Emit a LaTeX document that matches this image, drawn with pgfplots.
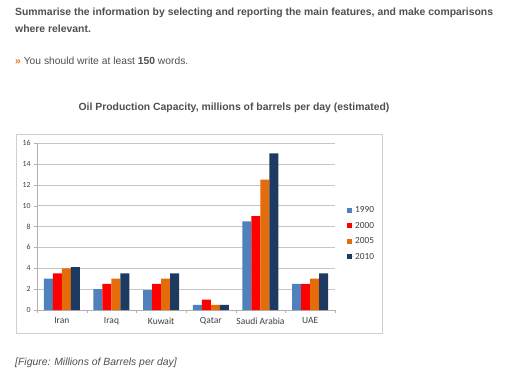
\documentclass[border=0pt]{standalone}
\usepackage{pgfplots}
\pgfplotsset{compat=1.18}
\usepackage{fontspec}
\setmainfont{Liberation Sans}
\newfontfamily\calibri{Carlito}
\definecolor{cA}{HTML}{4F81BD}
\definecolor{cB}{HTML}{FF0000}
\definecolor{cC}{HTML}{E46C0A}
\definecolor{cD}{HTML}{1F3A60}
\definecolor{hdr}{HTML}{505050}
\definecolor{orng}{HTML}{E87722}
\definecolor{frame}{HTML}{D0D0D0}
\definecolor{tick}{HTML}{404040}
\begin{document}
\begin{tikzpicture}[x=1pt,y=1pt]
\useasboundingbox[fill=white] (0,0) rectangle (512,378);
\node[anchor=west, text=hdr, font=\bfseries\fontsize{10.4}{12}\selectfont, inner sep=0pt] at (15,365) {Summarise the information by selecting and reporting the main features, and make comparisons};
\node[anchor=west, text=hdr, font=\bfseries\fontsize{10.4}{12}\selectfont, inner sep=0pt] at (15,349) {where relevant.};
\node[anchor=west, text=hdr, font=\fontsize{10.3}{12}\selectfont, inner sep=0pt] at (15,317) {{\color{orng}\bfseries »} You should write at least \textbf{150} words.};
\node[text=hdr, font=\bfseries\fontsize{10.4}{12}\selectfont, inner sep=0pt] at (234,270) {Oil Production Capacity, millions of barrels per day (estimated)};
\node[anchor=west, text=hdr, font=\itshape\fontsize{10.4}{12}\selectfont, inner sep=0pt] at (15,15) {[Figure: Millions of Barrels per day]};
\draw[frame] (16,45) rectangle (382,244);
\begin{axis}[
  at={(37pt,68pt)}, anchor=south west,
  scale only axis, width=298pt, height=167pt,
  xmin=-0.5, xmax=5.5, ymin=0, ymax=16,
  ybar=0pt, bar width=9pt,
  axis x line*=bottom, axis y line*=left,
  axis line style={-, draw=gray!60},
  xtick={0,...,5},
  xticklabels={Iran,Iraq,Kuwait,Qatar,Saudi Arabia,UAE},
  major x tick style={draw=none},
  minor xtick={-0.5,0.5,...,5.5},
  minor x tick style={draw=gray!60},
  minor tick length=3pt,
  ytick={0,2,...,16},
  ytick style={draw=gray!60},
  major tick length=3pt,
  tick align=outside,
  ymajorgrids, grid style={draw=gray!45},
  /pgf/number format/assume math mode=true,
  x tick label style={font=\calibri\fontsize{9.5}{11}\selectfont, text=tick},
  y tick label style={font=\calibri\fontsize{7.8}{9}\selectfont, text=tick},
  xticklabel shift=1pt,
  sq/.style={legend image code/.code={\fill[##1] (0pt,-2.5pt) rectangle (5pt,2.5pt); \path (0pt,0pt) -- (7pt,0pt);}},
  legend style={at={(1.04,0.458)}, anchor=west, draw=none, fill=none,
    font=\calibri\fontsize{9.3}{11}\selectfont, text=tick, row sep=6pt,
    inner sep=0pt, nodes={inner sep=1pt}},
  legend cell align=left,
]
\addplot[fill=cA, draw=none, sq] coordinates {(0,3) (1,2) (2,1.9) (3,0.5) (4,8.5) (5,2.5)};
\addplot[fill=cB, draw=none, sq] coordinates {(0,3.5) (1,2.5) (2,2.5) (3,1) (4,9) (5,2.5)};
\addplot[fill=cC, draw=none, sq] coordinates {(0,4) (1,3) (2,3) (3,0.5) (4,12.5) (5,3)};
\addplot[fill=cD, draw=none, sq] coordinates {(0,4.1) (1,3.5) (2,3.5) (3,0.5) (4,15) (5,3.5)};
\legend{1990,2000,2005,2010}
\end{axis}
\end{tikzpicture}
\end{document}
